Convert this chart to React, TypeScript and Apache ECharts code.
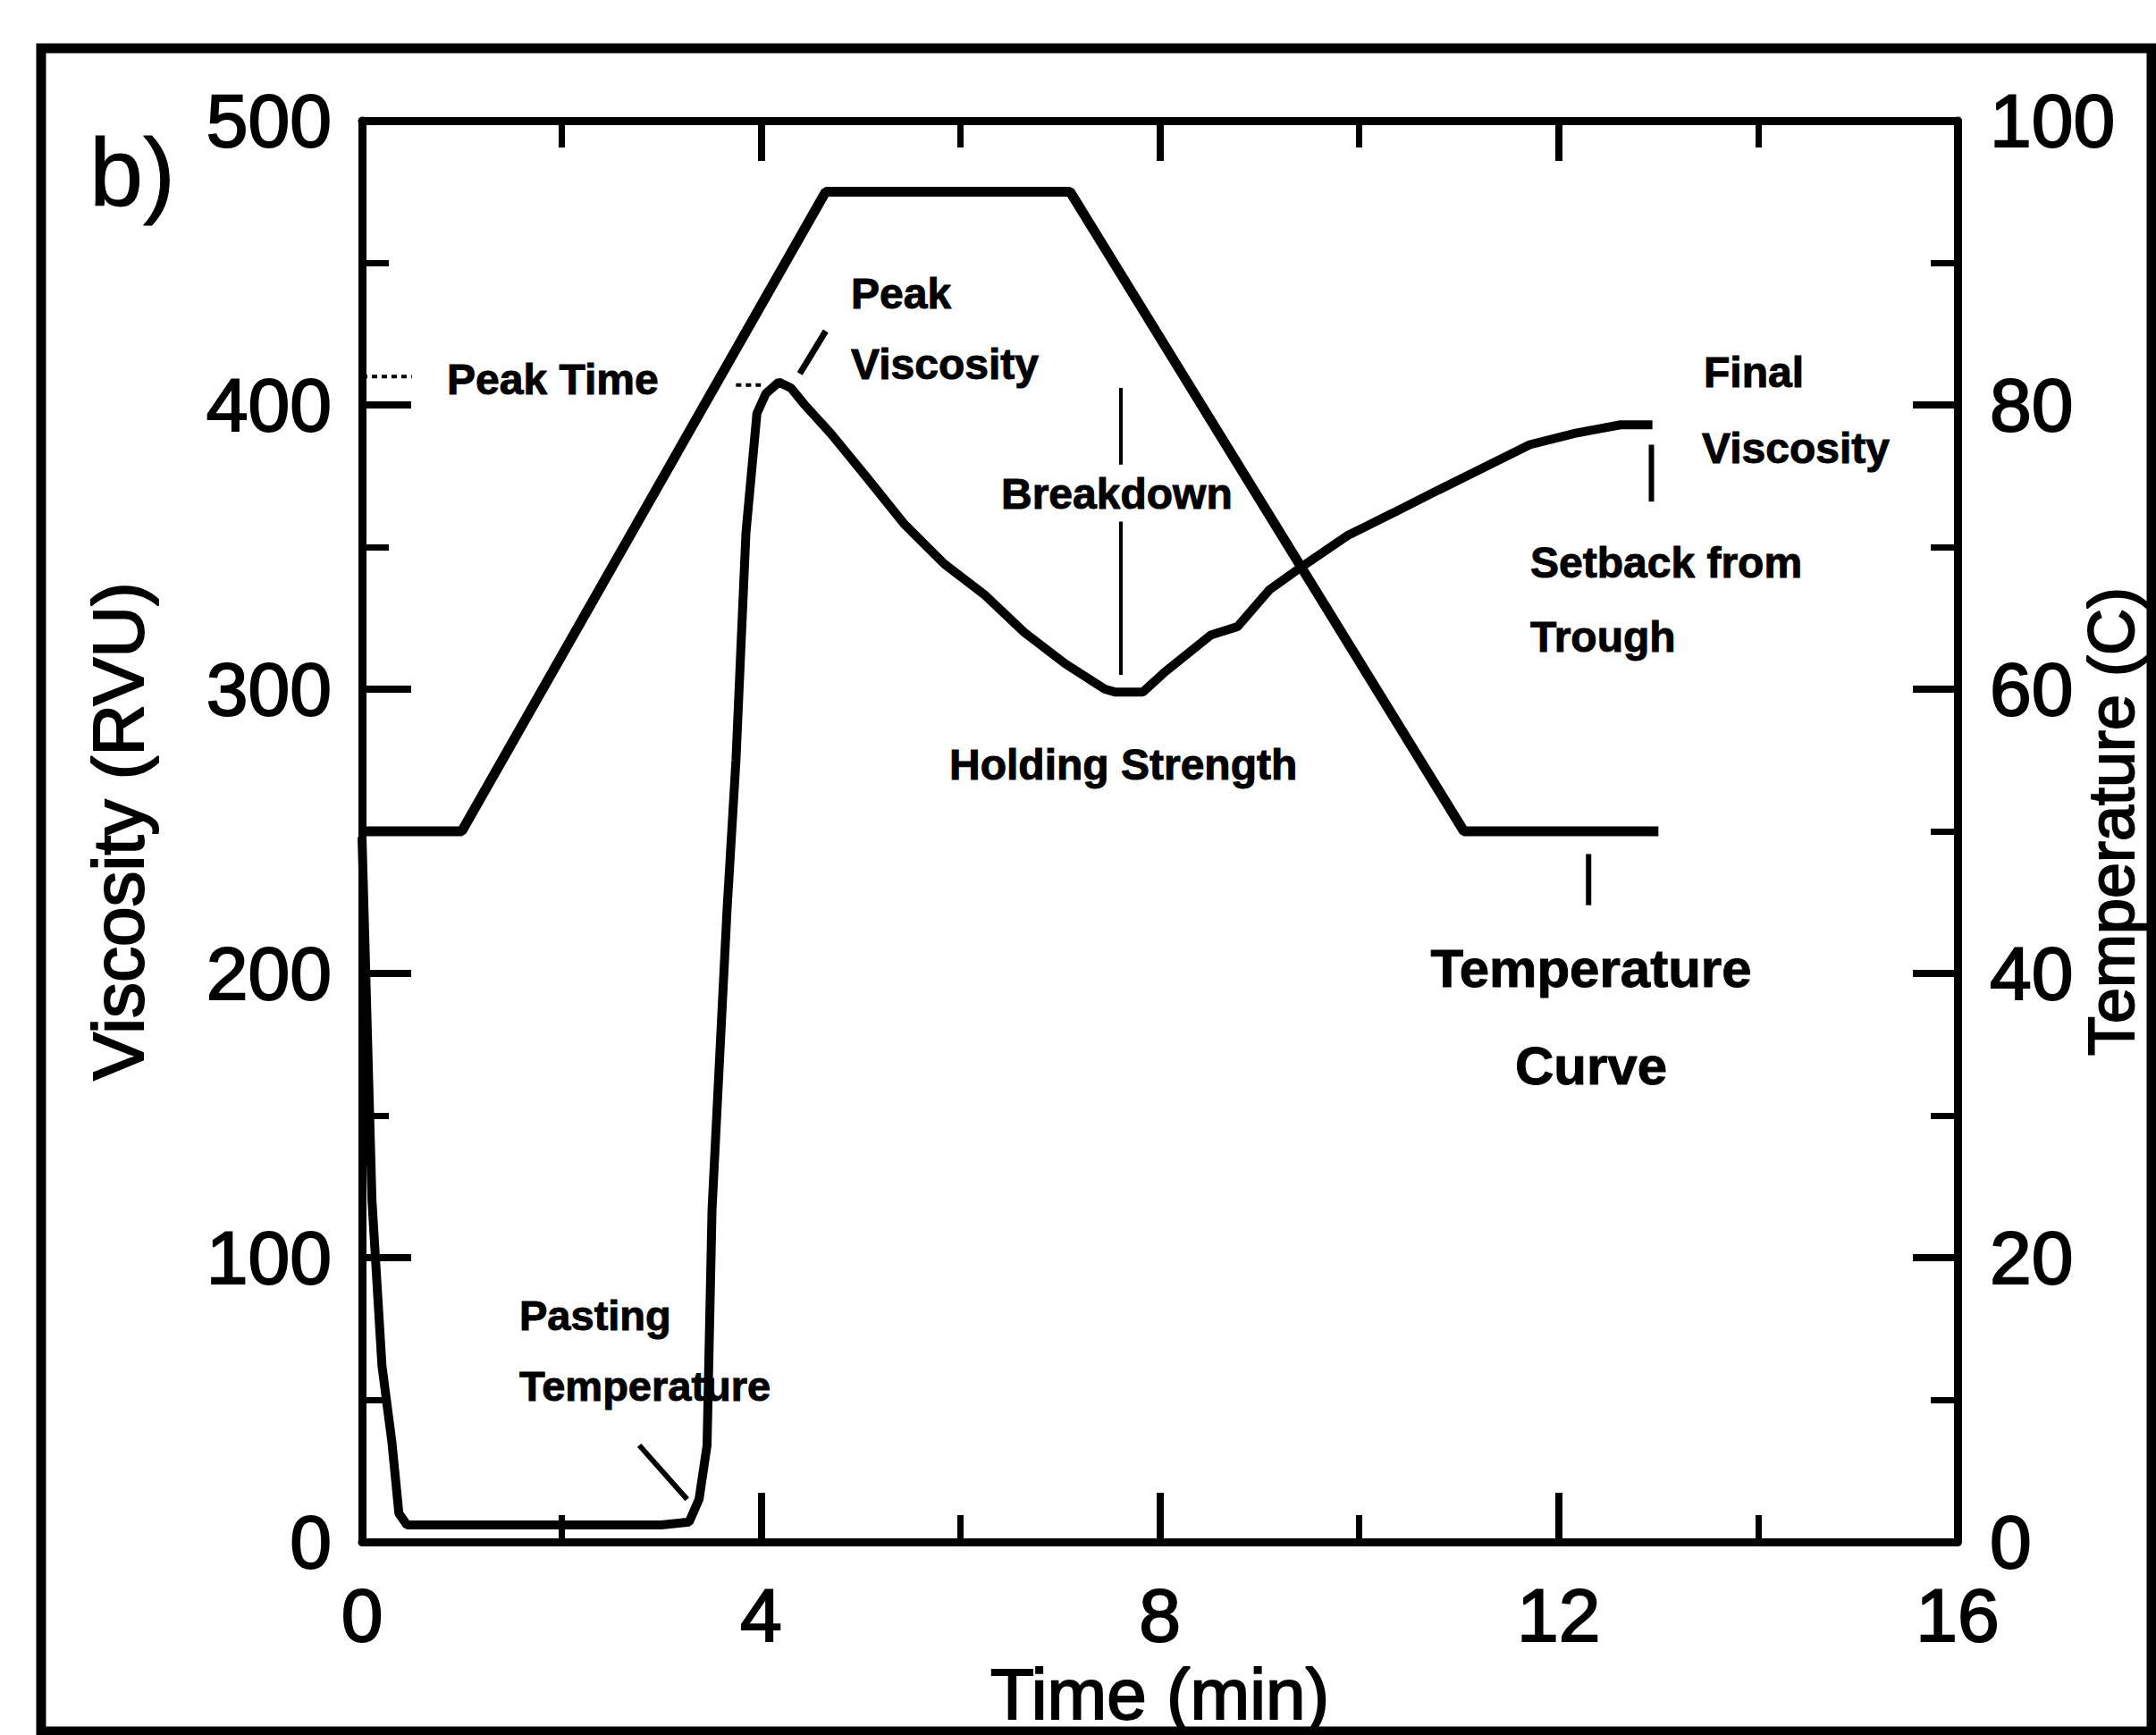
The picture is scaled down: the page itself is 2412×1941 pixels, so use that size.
import React, { useEffect, useRef } from "react";
import * as echarts from "echarts";

// ---- Data ----
// Temperature profile (°C) vs time (min)
const tempTime = [0, 1.0, 4.65, 7.1, 11.05, 13.0];
const tempValues = [50, 50, 95, 95, 50, 50];

// Viscosity (RVU) vs time (min)
const viscTime = [
  0, 0.1, 0.2, 0.3, 0.37, 0.45, 1.5, 3.0, 3.28, 3.38, 3.46, 3.51, 3.66, 3.75,
  3.85, 3.96, 4.05, 4.18, 4.3, 4.44, 4.7, 5.05, 5.44, 5.84, 6.25, 6.64, 7.05,
  7.45, 7.55, 7.83, 8.05, 8.51, 8.78, 9.1, 9.42, 9.88, 10.34, 10.79, 11.25,
  11.71, 12.16, 12.62, 12.94,
];
const viscValues = [
  248, 120, 62, 35, 10, 6, 6, 6, 7, 15, 34, 117, 222, 275, 355, 397, 404, 408,
  406, 400, 390, 375, 358, 344, 333, 320, 309, 300, 299, 299, 306, 319, 322,
  335, 343, 354, 362, 370, 378, 386, 390, 393, 393,
];

// Annotation pointer segments, in data units [time, viscosity]
const breakdownUpper = [[7.61, 406], [7.61, 379]];
const breakdownLower = [[7.61, 359], [7.61, 305]];
const peakViscPointer = [[4.39, 411], [4.65, 426]];
const pastingPointer = [[2.78, 34], [3.26, 15]];
const setbackMarker = [[12.93, 386], [12.93, 366]];
const tempCurveMarker = [[12.3, 242], [12.3, 224]];
const peakTimeDots = [[3.75, 407], [4.0, 407]];
const axisArrow400 = [[0, 410], [0.5, 410]];

// Axis tick settings
const xMin = 0, xMax = 16, xInterval = 4;
const yMin = 0, yMax = 500, yInterval = 100;
const tMin = 0, tMax = 100, tInterval = 20;

const W = 2412;
const H = 1941;
const G_LEFT = 405;
const G_TOP = 135;
const G_RIGHT = 2190;
const G_BOTTOM = 1725;

const NUM_FONT = "'Liberation Sans Narrow', 'Liberation Sans', Arial, sans-serif";
const TXT_FONT = "'Liberation Sans', Arial, sans-serif";

function zip(a: number[], b: number[]) {
  return a.map((v, i) => [v, b[i]]);
}

function segSeries(data: number[][], width: number, type: any = "solid") {
  return {
    type: "line",
    data,
    xAxisIndex: 0,
    yAxisIndex: 0,
    showSymbol: false,
    symbol: "none",
    silent: true,
    lineStyle: { color: "#000", width, type },
    z: 3,
  };
}

function label(
  text: string,
  x: number,
  y: number,
  size = 48,
  align = "left",
  weight: any = "bold",
  rotation = 0,
  strokeW = 1
) {
  return {
    type: "text",
    x,
    y,
    rotation,
    z: 20,
    silent: true,
    style: {
      text,
      fill: "#000",
      fontSize: size,
      fontWeight: weight,
      fontFamily: TXT_FONT,
      align,
      verticalAlign: "middle",
      stroke: "#000",
      lineWidth: strokeW,
    },
  };
}

export default function App() {
  const ref = useRef<HTMLDivElement>(null);

  useEffect(() => {
    if (!ref.current) return;
    const chart = echarts.init(ref.current, undefined, { renderer: "svg" });

    const axisCommon = {
      axisLine: { show: true, onZero: false, lineStyle: { color: "#000", width: 9 } },
      axisTick: { show: true, inside: true, length: 55, lineStyle: { color: "#000", width: 8 } },
      minorTick: { show: true, splitNumber: 2, length: 30, lineStyle: { color: "#000", width: 7 } },
      splitLine: { show: false },
      minorSplitLine: { show: false },
    };

    const option: any = {
      animation: false,
      backgroundColor: "#fff",
      grid: {
        left: G_LEFT,
        top: G_TOP,
        right: W - G_RIGHT,
        bottom: H - G_BOTTOM,
        containLabel: false,
        outerBoundsMode: "none",
      },
      xAxis: [
        {
          type: "value",
          min: xMin,
          max: xMax,
          interval: xInterval,
          position: "bottom",
          ...axisCommon,
          axisLabel: {
            color: "#000",
            fontSize: 84,
            fontFamily: NUM_FONT,
            margin: 40,
            textBorderColor: "#000",
            textBorderWidth: 2,
          },
          name: "Time (min)",
          nameLocation: "middle",
          nameGap: 106,
          nameTextStyle: {
            color: "#000",
            fontSize: 80,
            fontFamily: TXT_FONT,
            textBorderColor: "#000",
            textBorderWidth: 2,
          },
        },
        {
          type: "value",
          min: xMin,
          max: xMax,
          interval: xInterval,
          position: "top",
          ...axisCommon,
          axisTick: { show: true, inside: true, length: 45, lineStyle: { color: "#000", width: 8 } },
          axisLabel: { show: false },
        },
      ],
      yAxis: [
        {
          type: "value",
          min: yMin,
          max: yMax,
          interval: yInterval,
          position: "left",
          ...axisCommon,
          axisLabel: {
            color: "#000",
            fontSize: 84,
            fontFamily: NUM_FONT,
            margin: 34,
            textBorderColor: "#000",
            textBorderWidth: 2,
          },
          name: "Viscosity (RVU)",
          nameLocation: "middle",
          nameRotate: 90,
          nameGap: 233,
          nameTextStyle: {
            color: "#000",
            fontSize: 80,
            fontFamily: TXT_FONT,
            textBorderColor: "#000",
            textBorderWidth: 2,
          },
        },
        {
          type: "value",
          min: tMin,
          max: tMax,
          interval: tInterval,
          position: "right",
          ...axisCommon,
          axisTick: { show: true, inside: true, length: 50, lineStyle: { color: "#000", width: 8 } },
          axisLabel: {
            color: "#000",
            fontSize: 84,
            fontFamily: NUM_FONT,
            margin: 36,
            textBorderColor: "#000",
            textBorderWidth: 2,
          },
        },
      ],
      series: [
        {
          name: "Temperature",
          type: "line",
          data: zip(tempTime, tempValues),
          xAxisIndex: 0,
          yAxisIndex: 1,
          showSymbol: false,
          symbol: "none",
          lineStyle: { color: "#000", width: 11 },
          z: 4,
        },
        {
          name: "Viscosity",
          type: "line",
          data: zip(viscTime, viscValues),
          xAxisIndex: 0,
          yAxisIndex: 0,
          showSymbol: false,
          symbol: "none",
          lineStyle: { color: "#000", width: 10 },
          z: 5,
        },
        segSeries(breakdownUpper, 4),
        segSeries(breakdownLower, 4),
        segSeries(peakViscPointer, 7),
        segSeries(pastingPointer, 6),
        segSeries(setbackMarker, 6),
        segSeries(tempCurveMarker, 6),
        segSeries(peakTimeDots, 4, [6, 5]),
        segSeries(axisArrow400, 4, [6, 5]),
      ],
      graphic: [
        {
          type: "rect",
          z: 30,
          silent: true,
          shape: { x: 46, y: 54, width: 2361, height: 1883 },
          style: { fill: "none", stroke: "#000", lineWidth: 11 },
        },
        label("b)", 100, 192, 108, "left", "normal"),
        label("Temperature (C)", 2362, 919, 72, "center", "normal", Math.PI / 2, 2),
        label("Peak Time", 500, 424),
        label("Peak", 952, 328),
        label("Viscosity", 952, 407),
        label("Breakdown", 1120, 552),
        label("Holding Strength", 1062, 855),
        label("Final", 1906, 416),
        label("Viscosity", 1904, 501),
        label("Setback from", 1712, 629),
        label("Trough", 1712, 712),
        label("Temperature", 1780, 1083, 60, "center"),
        label("Curve", 1780, 1192, 60, "center"),
        label("Pasting", 581, 1471, 47),
        label("Temperature", 581, 1550, 47),
      ],
    };

    chart.setOption(option);
    return () => chart.dispose();
  }, []);

  return (
    <div
      ref={ref}
      style={{ position: "absolute", left: 0, top: 0, width: W, height: H, background: "#fff" }}
    />
  );
}
